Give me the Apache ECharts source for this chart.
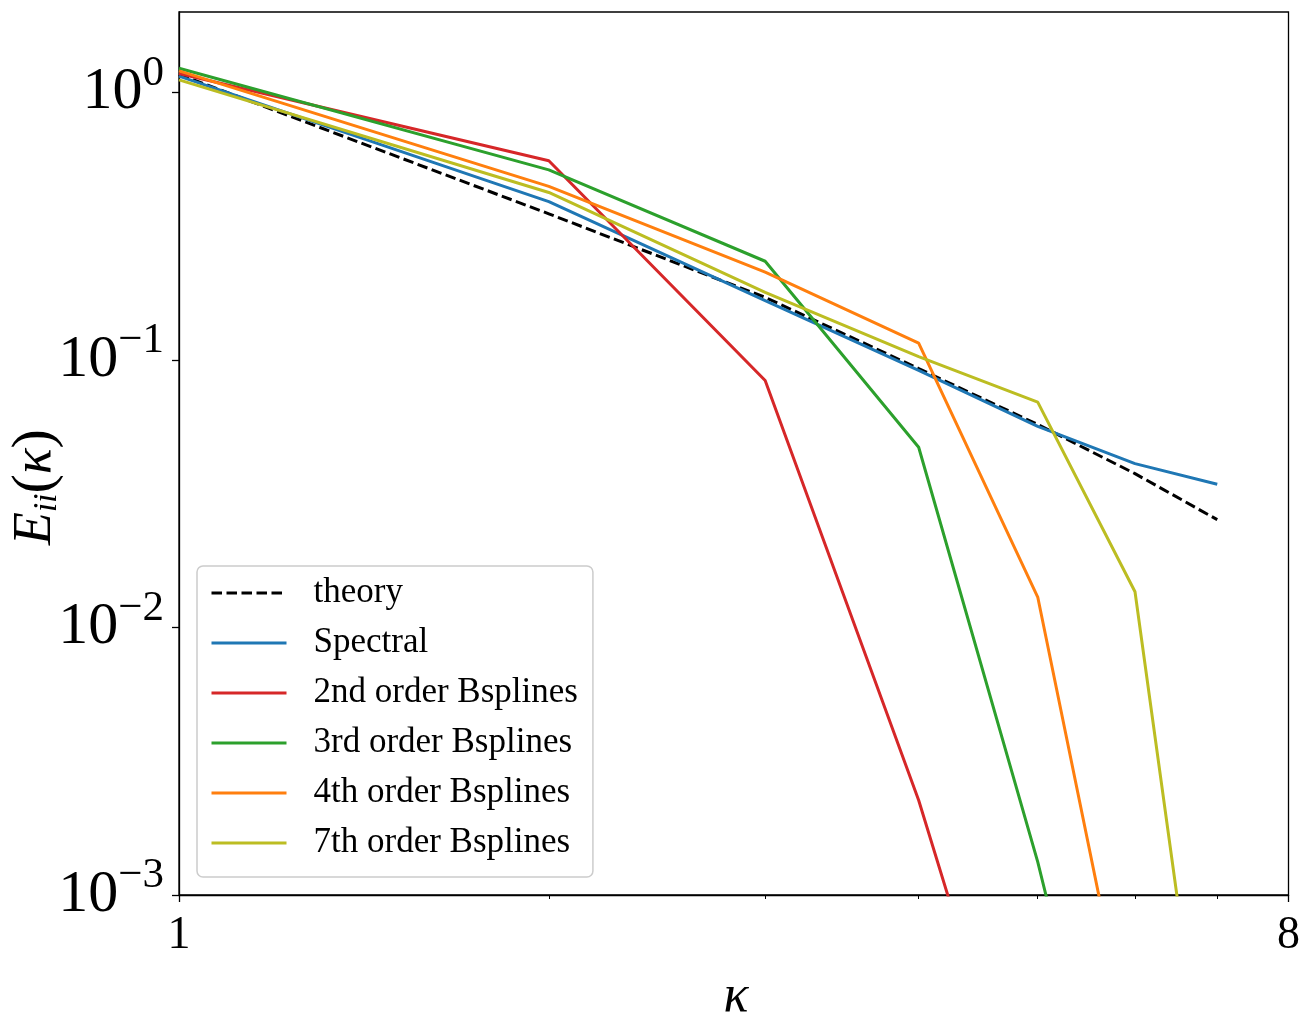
<!DOCTYPE html>
<html>
<head>
<meta charset="utf-8">
<script src="https://cdn.jsdelivr.net/npm/echarts@6/dist/echarts.min.js"></script>
<style>
html,body{margin:0;padding:0;background:#fff;}
#chart{width:1303px;height:1015px;}
</style>
</head>
<body>
<div id="chart"></div>
<script>
const kappa = [1, 2, 3, 4, 5, 6, 7];
const theory = [1.17, 0.352, 0.1715, 0.0929, 0.0574, 0.0376, 0.0253];
const spectral = [1.151, 0.391, 0.1668, 0.0914, 0.0565, 0.0410, 0.0343];
const bspline2 = [1.178, 0.556, 0.0838, 0.00226, 0.00008];
const bspline3 = [1.233, 0.514, 0.234, 0.0472, 0.00133, 0.000045];
const bspline4 = [1.205, 0.4457, 0.213, 0.1156, 0.0130, 0.000218];
const bspline7 = [1.115, 0.423, 0.179, 0.103, 0.0696, 0.0136, 0.0000805];

const seriesNames = ['theory', 'Spectral', '2nd order Bsplines', '3rd order Bsplines', '4th order Bsplines', '7th order Bsplines'];
const seriesColors = ['#000000', '#1f77b4', '#d62728', '#2ca02c', '#ff7f0e', '#bcbd22'];
const seriesValues = [theory, spectral, bspline2, bspline3, bspline4, bspline7];

const xMajorTicks = [1, 8];
const xMinorTicks = [2, 3, 4, 5, 6, 7];
const yMajorTicks = [0.001, 0.01, 0.1, 1];

const FONT = "'Liberation Serif', 'Times New Roman', serif";
const LW = 3;

const chart = echarts.init(document.getElementById('chart'), null, {renderer: 'canvas'});

const series = seriesValues.map((vals, i) => ({
  name: seriesNames[i],
  type: 'line',
  xAxisIndex: 0,
  yAxisIndex: 0,
  data: vals.map((v, j) => [kappa[j], v]),
  symbol: 'none',
  clip: true,
  z: 2 + i,
  lineStyle: {
    color: seriesColors[i],
    width: LW,
    type: i === 0 ? [10.5, 4.5] : 'solid'
  },
  itemStyle: {color: seriesColors[i]}
}));

const option = {
  animation: false,
  backgroundColor: '#ffffff',
  grid: {
    left: 179, right: 12, top: 12, bottom: 120,
    show: true, borderColor: '#000', borderWidth: 1.3, backgroundColor: 'transparent'
  },
  xAxis: [
    {
      type: 'log', logBase: 10, min: 1, max: 8, position: 'bottom',
      axisLine: {show: true, lineStyle: {color: '#000', width: 1.3}},
      axisTick: {show: true, inside: false, length: 7, customValues: xMajorTicks, lineStyle: {color: '#000', width: 1.3}},
      minorTick: {show: false},
      splitLine: {show: false},
      axisLabel: {
        customValues: xMajorTicks, margin: 18,
        fontFamily: FONT, fontSize: 46, color: '#000',
        formatter: v => String(Math.round(v))
      }
    },
    {
      type: 'log', logBase: 10, min: 1, max: 8, position: 'bottom',
      axisLine: {show: false},
      axisTick: {show: true, inside: false, length: 4, customValues: xMinorTicks, lineStyle: {color: '#000', width: 1}},
      splitLine: {show: false},
      axisLabel: {show: false}
    }
  ],
  yAxis: {
    type: 'log', logBase: 10, min: 0.001, max: 2,
    axisLine: {show: true, lineStyle: {color: '#000', width: 1.3}},
    axisTick: {show: true, inside: false, length: 7, customValues: yMajorTicks, lineStyle: {color: '#000', width: 1.3}},
    splitLine: {show: false},
    axisLabel: {
      customValues: yMajorTicks, margin: 15,
      formatter: function (v) {
        const e = Math.round(Math.log10(v));
        const es = e < 0 ? '\u2212' + (-e) : String(e);
        return '{b|10}{s|' + es + '}';
      },
      rich: {
        b: {fontFamily: FONT, fontSize: 60, lineHeight: 60, color: '#000', verticalAlign: 'bottom'},
        s: {fontFamily: FONT, fontSize: 43, height: 22, lineHeight: 22, color: '#000', verticalAlign: 'top'}
      }
    }
  },
  legend: {
    orient: 'vertical',
    left: 197, top: 566,
    data: seriesNames,
    selectedMode: false,
    itemWidth: 75, itemHeight: 36, itemGap: 14,
    padding: [9, 15, 16, 13],
    backgroundColor: 'rgba(255,255,255,0.8)',
    borderColor: '#cccccc', borderWidth: 1.5, borderRadius: 6,
    itemStyle: {opacity: 0, borderWidth: 0},
    lineStyle: {width: LW},
    textStyle: {fontFamily: FONT, fontSize: 35, lineHeight: 27, color: '#000', padding: [9, 0, 0, 22]}
  },
  graphic: [
    {
      type: 'text', x: 36, y: 487, rotation: Math.PI / 2,
      style: {
        text: '{e|E}{s|ii}{p|(}{k|\u03ba}{p|)}',
        align: 'center', verticalAlign: 'middle',
        rich: {
          e: {fontFamily: FONT, fontStyle: 'italic', fontSize: 54, lineHeight: 56, fill: '#000', verticalAlign: 'middle'},
          s: {fontFamily: FONT, fontStyle: 'italic', fontSize: 33, lineHeight: 28, fill: '#000', verticalAlign: 'bottom'},
          p: {fontFamily: FONT, fontSize: 58, lineHeight: 56, fill: '#000', verticalAlign: 'middle'},
          k: {fontFamily: FONT, fontStyle: 'italic', fontSize: 54, lineHeight: 56, fill: '#000', verticalAlign: 'middle'}
        }
      }
    },
    {
      type: 'text', x: 736, y: 997,
      style: {
        text: '\u03ba', fontFamily: FONT, fontStyle: 'italic', fontSize: 52, fill: '#000',
        align: 'center', verticalAlign: 'middle'
      }
    }
  ],
  series: series
};

chart.setOption(option);
</script>
</body>
</html>
